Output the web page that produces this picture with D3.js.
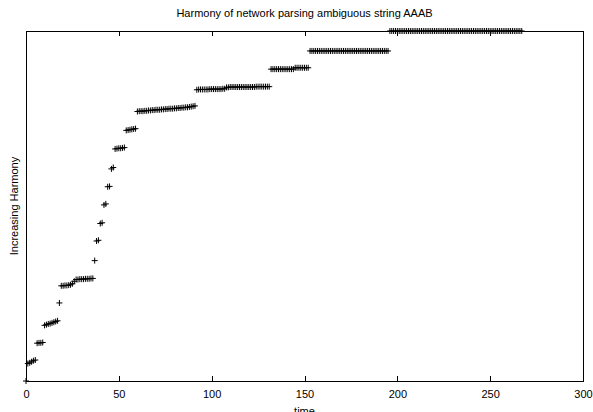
<!DOCTYPE html>
<html>
<head>
<meta charset="utf-8">
<script src="https://cdn.jsdelivr.net/npm/d3@7"></script>
<style>
  body { margin: 0; background: #fff; }
  svg { display: block; font-family: "Liberation Sans", Arial, sans-serif; }
  .tick line, rect.frame { shape-rendering: crispEdges; }
</style>
</head>
<body>
<div id="container"></div>
<script>
// harmony value at each time step (index = time)
const harmony = [
  0, 5.0, 5.2, 5.5, 5.8, 6.0, 10.8, 10.9, 10.9, 11.0,
  15.9, 16.1, 16.3, 16.4, 16.6, 16.8, 17.0, 17.2, 22.3, 27.2,
  27.2, 27.3, 27.3, 27.4, 27.5, 27.8, 28.5, 29.0, 29.0, 29.1,
  29.1, 29.1, 29.2, 29.2, 29.2, 29.3, 29.3, 34.4, 40.0, 40.2,
  45.0, 45.2, 50.3, 50.6, 55.5, 55.6, 60.6, 61.0, 66.3, 66.4,
  66.5, 66.5, 66.6, 66.7, 71.6, 71.7, 71.8, 71.9, 72.0, 72.1,
  77.0, 77.1, 77.1, 77.1, 77.2, 77.2, 77.3, 77.3, 77.4, 77.4,
  77.5, 77.5, 77.5, 77.6, 77.6, 77.7, 77.7, 77.8, 77.8, 77.8,
  77.9, 77.9, 78.0, 78.0, 78.1, 78.1, 78.2, 78.2, 78.3, 78.4,
  78.5, 78.6, 83.2, 83.3, 83.3, 83.3, 83.3, 83.3, 83.3, 83.4,
  83.4, 83.4, 83.4, 83.4, 83.4, 83.4, 83.5, 83.5, 83.9, 83.9,
  84.0, 84.0, 84.0, 84.0, 84.0, 84.0, 84.0, 84.0, 84.0, 84.0,
  84.0, 84.0, 84.0, 84.0, 84.1, 84.1, 84.1, 84.1, 84.1, 84.1,
  84.1, 84.1, 89.1, 89.1, 89.1, 89.1, 89.1, 89.1, 89.1, 89.1,
  89.1, 89.1, 89.1, 89.1, 89.1, 89.5, 89.5, 89.5, 89.5, 89.5,
  89.5, 89.5, 89.5, 94.3, 94.3, 94.3, 94.3, 94.3, 94.3, 94.3,
  94.3, 94.3, 94.3, 94.3, 94.3, 94.3, 94.3, 94.3, 94.3, 94.3,
  94.3, 94.3, 94.3, 94.3, 94.3, 94.3, 94.3, 94.3, 94.3, 94.3,
  94.3, 94.3, 94.3, 94.3, 94.3, 94.3, 94.3, 94.3, 94.3, 94.3,
  94.3, 94.3, 94.3, 94.3, 94.3, 94.3, 100, 100, 100, 100,
  100, 100, 100, 100, 100, 100, 100, 100, 100, 100,
  100, 100, 100, 100, 100, 100, 100, 100, 100, 100,
  100, 100, 100, 100, 100, 100, 100, 100, 100, 100,
  100, 100, 100, 100, 100, 100, 100, 100, 100, 100,
  100, 100, 100, 100, 100, 100, 100, 100, 100, 100,
  100, 100, 100, 100, 100, 100, 100, 100, 100, 100,
  100, 100, 100, 100, 100, 100, 100, 100
];
const xTicks = [0, 50, 100, 150, 200, 250, 300];
const xDomain = [0, 300];
const yDomain = [0, 100];
const title = "Harmony of network parsing ambiguous string AAAB";
const xLabel = "time";
const yLabel = "Increasing Harmony";

const w = 593, h = 412;
const margin = {top: 31, right: 10, bottom: 31, left: 26};
const plotW = 583 - margin.left;
const plotH = 381 - margin.top;

// CHART
const chart = d3.select('#container')
                .append('svg')
                .attr('width', w)
                .attr('height', h);

const x = d3.scaleLinear()
            .domain(xDomain)
            .range([margin.left, margin.left + plotW]);

const y = d3.scaleLinear()
            .domain(yDomain)
            .range([margin.top + plotH, margin.top]);

// AXES - bottom with labels, top mirrored ticks, ticks point inward
const xAxis = d3.axisBottom(x)
                .tickValues(xTicks)
                .tickSizeInner(-5)
                .tickSizeOuter(0)
                .tickPadding(9);

chart.append('g')
     .attr('transform', `translate(0, ${margin.top + plotH})`)
     .call(xAxis)
     .call(g => g.select('.domain').remove())
     .call(g => g.selectAll('text').attr('font-size', 11).attr('fill', '#000').attr('font-family', null));

chart.append('g')
     .attr('transform', `translate(0, ${margin.top})`)
     .call(d3.axisTop(x).tickValues(xTicks).tickSizeInner(-5).tickSizeOuter(0).tickFormat(''))
     .call(g => g.select('.domain').remove());

// frame
chart.append('rect')
     .attr('class', 'frame')
     .attr('x', margin.left)
     .attr('y', margin.top)
     .attr('width', plotW)
     .attr('height', plotH)
     .attr('fill', 'none')
     .attr('stroke', '#000')
     .attr('stroke-width', 1);

// TITLES
chart.append('text')
     .attr('x', margin.left + plotW / 2)
     .attr('y', 17)
     .attr('text-anchor', 'middle')
     .attr('font-size', 11)
     .text(title);

chart.append('text')
     .attr('x', margin.left + plotW / 2)
     .attr('y', 415)
     .attr('text-anchor', 'middle')
     .attr('font-size', 11)
     .text(xLabel);

chart.append('text')
     .attr('transform', `translate(18, ${margin.top + plotH / 2}) rotate(-90)`)
     .attr('text-anchor', 'middle')
     .attr('font-size', 11)
     .text(yLabel);

// POINTS - plus markers
chart.append('g')
     .selectAll('path')
     .data(harmony)
     .enter()
     .append('path')
     .attr('transform', (d, i) => `translate(${x(i)}, ${y(d)})`)
     .attr('d', 'M-3,0H3M0,-3V3')
     .attr('stroke', '#000')
     .attr('stroke-width', 1)
     .attr('fill', 'none');
</script>
</body>
</html>
